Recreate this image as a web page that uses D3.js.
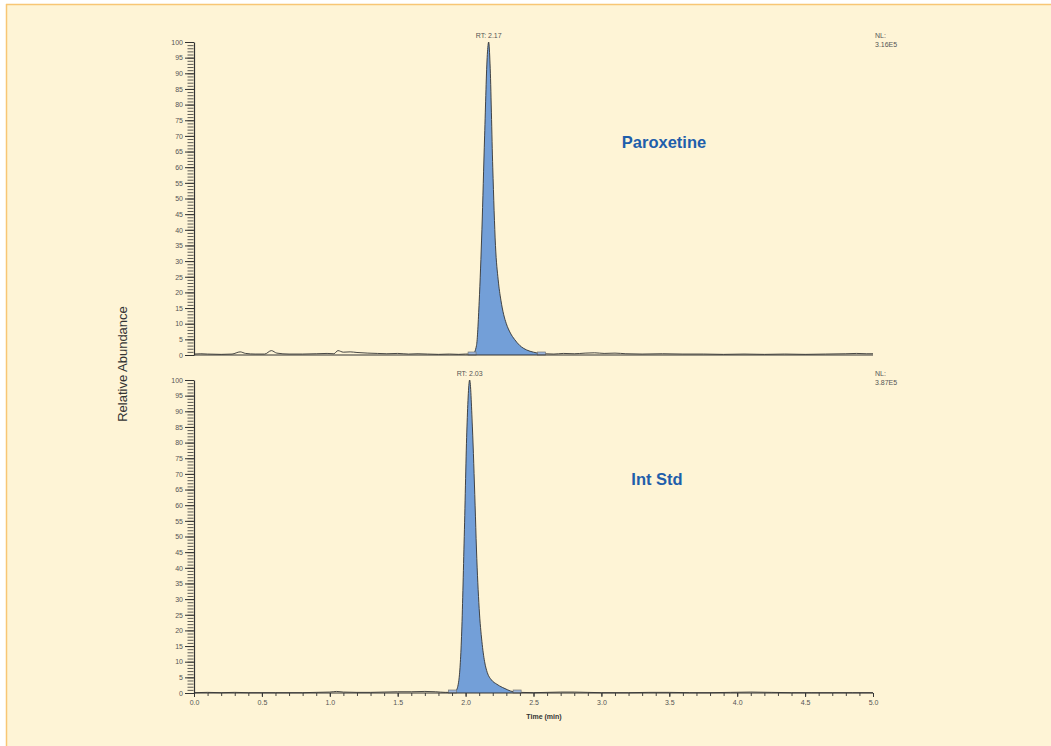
<!DOCTYPE html>
<html lang="en">
<head>
    <meta charset="UTF-8">
    <title>Chromatogram - Paroxetine / Int Std</title>
    <script src="https://d3js.org/d3.v7.min.js"></script>
    <style>
        html, body { margin: 0; padding: 0; background: #fff; }
        svg text { font-family: "Liberation Sans Narrow", "Liberation Sans", Arial, sans-serif; }
    </style>
</head>
<body>
    <div id="chart"></div>
    <script>
        // Paroxetine trace (time in min, relative abundance %)
        const parTime = [0.00, 0.05, 0.10, 0.20, 0.28, 0.34, 0.38, 0.45, 0.52, 0.57, 0.61, 0.70, 0.80, 0.90, 0.98, 1.03, 1.06, 1.10, 1.15, 1.20, 1.28, 1.35, 1.42, 1.50, 1.58, 1.65, 1.72, 1.80, 1.88, 1.95, 2.00, 2.04, 2.055,
            2.08, 2.10, 2.12, 2.14, 2.16, 2.17, 2.18, 2.20, 2.22, 2.24, 2.26, 2.28, 2.30, 2.33, 2.36, 2.40, 2.45, 2.50, 2.53,
            2.58, 2.65, 2.72, 2.80, 2.88, 2.95, 3.02, 3.10, 3.18, 3.30, 3.45, 3.60, 3.75, 3.90, 4.05, 4.20, 4.35, 4.50, 4.65, 4.80, 4.88, 4.95, 5.00];
        const parAbund = [0.3, 0.4, 0.3, 0.2, 0.3, 1.0, 0.5, 0.3, 0.3, 1.4, 0.6, 0.3, 0.3, 0.4, 0.5, 0.4, 1.4, 0.9, 1.0, 0.8, 0.6, 0.5, 0.4, 0.5, 0.3, 0.4, 0.3, 0.2, 0.3, 0.2, 0.3, 0.3, 0.3,
            3, 17, 40, 70, 96, 100, 93, 60, 35, 24, 17.5, 13, 10, 7, 5, 3, 1.6, 0.9, 0.6,
            0.4, 0.3, 0.5, 0.4, 0.6, 0.7, 0.5, 0.6, 0.4, 0.3, 0.4, 0.3, 0.3, 0.2, 0.3, 0.2, 0.3, 0.2, 0.3, 0.4, 0.5, 0.4, 0.4];

        // Internal standard trace
        const istdTime = [0.00, 0.10, 0.20, 0.30, 0.40, 0.50, 0.60, 0.70, 0.80, 0.90, 1.00, 1.05, 1.10, 1.20, 1.30, 1.40, 1.50, 1.60, 1.70, 1.78, 1.85, 1.90,
            1.93, 1.95, 1.97, 1.99, 2.01, 2.03, 2.05, 2.07, 2.08, 2.10, 2.12, 2.14, 2.16, 2.19, 2.23, 2.27, 2.31, 2.35,
            2.40, 2.50, 2.60, 2.70, 2.80, 2.90, 3.00, 3.10, 3.20, 3.35, 3.50, 3.65, 3.80, 3.95, 4.10, 4.25, 4.40, 4.55, 4.70, 4.85, 5.00];
        const istdAbund = [0.1, 0.2, 0.1, 0.2, 0.1, 0.1, 0.1, 0.1, 0.1, 0.2, 0.3, 0.5, 0.3, 0.2, 0.2, 0.3, 0.4, 0.4, 0.5, 0.4, 0.2, 0.2,
            0.8, 4, 18, 50, 85, 100, 85, 60, 46, 27, 16.5, 10, 6.5, 4.2, 2.8, 1.8, 1.0, 0.4,
            0.2, 0.1, 0.2, 0.3, 0.3, 0.2, 0.1, 0.1, 0.1, 0.2, 0.2, 0.1, 0.1, 0.2, 0.3, 0.2, 0.1, 0.1, 0.1, 0.1, 0.1];

        const panels = [
            { name: "Paroxetine", time: parTime, abund: parAbund, rt: "RT: 2.17", rtTime: 2.17, nl: "3.16E5", start: 2.055, end: 2.53 },
            { name: "Int Std", time: istdTime, abund: istdAbund, rt: "RT: 2.03", rtTime: 2.03, nl: "3.87E5", start: 1.91, end: 2.35 }
        ];

        const xMajor = [0.0, 0.5, 1.0, 1.5, 2.0, 2.5, 3.0, 3.5, 4.0, 4.5, 5.0];
        const yMajor = d3.range(0, 101, 5);

        const W = 1051, H = 746;
        const svg = d3.select("#chart").append("svg")
            .attr("width", W).attr("height", H);

        // background + orange frame (top and left)
        svg.append("rect").attr("x", 6).attr("y", 4).attr("width", W - 6).attr("height", H - 4).attr("fill", "#fef4d6");
        svg.append("line").attr("x1", 6).attr("x2", W).attr("y1", 4.5).attr("y2", 4.5).attr("stroke", "#f8c674").attr("stroke-width", 1.5);
        svg.append("line").attr("x1", 6.5).attr("x2", 6.5).attr("y1", 4).attr("y2", H).attr("stroke", "#f8c674").attr("stroke-width", 1.5);

        const x = d3.scaleLinear().domain([0, 5]).range([194, 873]);
        const bands = [[42, 355], [380, 693]];
        const ink = "#333";
        const labelCol = "#555";

        panels.forEach((p, i) => {
            const y = d3.scaleLinear().domain([0, 100]).range([bands[i][1], bands[i][0]]);
            const g = svg.append("g");
            const pts = p.time.map((t, k) => ({ t: t, v: p.abund[k] }));

            // filled peak
            const peakPts = pts.filter(d => d.t >= p.start && d.t <= p.end);
            g.append("path").datum(peakPts)
                .attr("fill", "#739fd8")
                .attr("d", d3.area().x(d => x(d.t)).y0(y(0)).y1(d => y(d.v)).curve(d3.curveMonotoneX));

            // trace
            g.append("path").datum(pts)
                .attr("fill", "none").attr("stroke", ink).attr("stroke-width", 0.9)
                .attr("d", d3.line().x(d => x(d.t)).y(d => y(d.v)).curve(d3.curveMonotoneX));

            // peak boundary markers
            [[x(p.start) - 5, x(p.start) + 3], [x(p.end), x(p.end) + 8]].forEach(m => {
                g.append("rect").attr("x", m[0]).attr("y", y(0) - 3).attr("width", m[1] - m[0]).attr("height", 3)
                    .attr("fill", "#9ab4dc").attr("stroke", "#777").attr("stroke-width", 0.7);
            });

            // y axis with major and minor ticks
            const yAx = g.append("g").attr("transform", "translate(193.5,0)")
                .call(d3.axisLeft(y).tickValues(d3.range(0, 101, 1)).tickSize(6).tickFormat(""));
            yAx.select(".domain").remove();
            yAx.selectAll("line").attr("stroke", ink).attr("stroke-width", 0.8);
            const yAxMaj = g.append("g").attr("transform", "translate(194,0)")
                .call(d3.axisLeft(y).tickValues(yMajor).tickSize(9).tickPadding(2).tickSizeOuter(0));
            yAxMaj.select(".domain").attr("stroke", ink).attr("stroke-width", 1.2);
            yAxMaj.selectAll("line").attr("stroke", ink).attr("stroke-width", 1);
            yAxMaj.selectAll("text").attr("font-size", 7).attr("fill", labelCol);

            // baseline
            g.append("line").attr("x1", x(0)).attr("x2", x(5)).attr("y1", y(0)).attr("y2", y(0))
                .attr("stroke", ink).attr("stroke-width", 1.2);

            // annotations
            g.append("text").attr("x", x(p.rtTime)).attr("y", y(100) - 4).attr("text-anchor", "middle")
                .attr("font-size", 7).attr("fill", labelCol).text(p.rt);
            g.append("text").attr("x", 875).attr("y", y(100) - 4).attr("font-size", 7).attr("fill", labelCol).text("NL:");
            g.append("text").attr("x", 875).attr("y", y(100) + 5).attr("font-size", 7).attr("fill", labelCol).text(p.nl);
            g.append("text").attr("x", i === 0 ? 664 : 657).attr("y", y(i === 0 ? 66 : 66.5))
                .attr("text-anchor", "middle").attr("font-size", 16.5).attr("font-weight", "bold")
                .attr("fill", "#1f5eab").style("font-family", "'Liberation Sans', Arial, sans-serif")
                .text(p.name);

            if (i === 1) {
                const xMin = g.append("g").attr("transform", `translate(0,${y(0)})`)
                    .call(d3.axisBottom(x).tickValues(d3.range(0, 51, 1).map(v => v / 10)).tickSize(3).tickFormat(""));
                xMin.select(".domain").remove();
                xMin.selectAll("line").attr("stroke", ink).attr("stroke-width", 0.9);
                const xAx = g.append("g").attr("transform", `translate(0,${y(0)})`)
                    .call(d3.axisBottom(x).tickValues(xMajor).tickSize(4).tickPadding(3).tickFormat(d3.format(".1f")).tickSizeOuter(0));
                xAx.select(".domain").remove();
                xAx.selectAll("line").attr("stroke", ink).attr("stroke-width", 1);
                xAx.selectAll("text").attr("font-size", 7).attr("fill", labelCol);
                g.append("text").attr("x", 544).attr("y", 719).attr("text-anchor", "middle")
                    .attr("font-size", 7).attr("font-weight", "bold").attr("fill", ink).text("Time (min)");
            }
        });

        svg.append("text").attr("transform", "translate(127,364) rotate(-90)")
            .attr("text-anchor", "middle").attr("font-size", 13).attr("fill", ink)
            .style("font-family", "'Liberation Sans', Arial, sans-serif")
            .text("Relative Abundance");
    </script>
</body>
</html>
